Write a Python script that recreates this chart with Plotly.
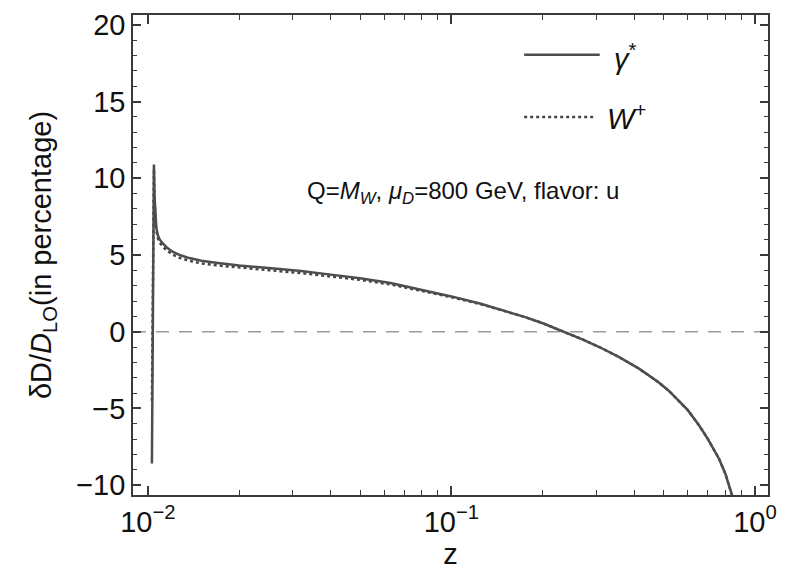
import plotly.graph_objects as go

# momentum fraction z and NLO correction (percent) for the u-quark fragmentation function
z_vals = [0.01031, 0.01036, 0.01041, 0.01047, 0.01052, 0.01058, 0.01066, 0.01078,
          0.01095, 0.0112, 0.0116, 0.0121, 0.0128, 0.0137, 0.0150, 0.0170, 0.0200,
          0.025, 0.032, 0.040, 0.050, 0.063, 0.079, 0.100, 0.125, 0.150, 0.175,
          0.200, 0.232, 0.270, 0.307, 0.357, 0.415, 0.48, 0.52, 0.562, 0.60, 0.654,
          0.70, 0.762, 0.80, 0.84, 0.87]

delta_gamma = [-8.6, -2.0, 4.5, 10.9, 8.8, 7.5, 6.8, 6.3,
               6.0, 5.75, 5.45, 5.2, 4.98, 4.8, 4.62, 4.48, 4.32,
               4.15, 3.95, 3.72, 3.48, 3.17, 2.76, 2.3, 1.82, 1.37, 0.95,
               0.55, 0.05, -0.5, -1.0, -1.66, -2.41, -3.28, -3.85, -4.5, -5.1, -6.1,
               -7.0, -8.3, -9.3, -10.65, -11.8]

delta_w = [-4.5, 0.5, 5.5, 10.6, 8.5, 7.25, 6.6, 6.1,
           5.8, 5.55, 5.26, 5.02, 4.8, 4.62, 4.45, 4.32, 4.17,
           4.01, 3.82, 3.6, 3.38, 3.08, 2.69, 2.25, 1.79, 1.35, 0.95,
           0.55, 0.05, -0.5, -1.0, -1.66, -2.41, -3.28, -3.85, -4.5, -5.1, -6.1,
           -7.0, -8.3, -9.3, -10.65, -11.8]

y_ticks = [-10, -5, 0, 5, 10, 15, 20]
y_tick_text = ["\u221210", "\u22125", "0", "5", "10", "15", "20"]
x_ticks = [0.01, 0.1, 1]
x_tick_text = ["10<sup>\u22122</sup>", "10<sup>\u22121</sup>", "10<sup>0</sup>"]
x_minor = [m * d for d in (0.01, 0.1) for m in range(2, 10)]

AX = "#3a3a3a"
CURVE = "#4d4d4d"
FONT = "Liberation Sans"

fig = go.Figure()
fig.add_trace(go.Scatter(x=z_vals, y=delta_w, mode="lines", name="W+",
                         line=dict(color="#444444", width=2.5, dash="dot")))
fig.add_trace(go.Scatter(x=z_vals, y=delta_gamma, mode="lines", name="gamma*",
                         line=dict(color=CURVE, width=2.5)))

# zero reference line
fig.add_shape(type="line", xref="paper", x0=0, x1=1, yref="y", y0=0, y1=0,
              line=dict(color="#9a9a9a", width=1.6, dash="13px,10px"), layer="below")

# hand-built legend
fig.add_shape(type="line", xref="paper", yref="paper", x0=0.616, x1=0.735, y0=0.917, y1=0.917,
              line=dict(color=CURVE, width=2.5))
fig.add_shape(type="line", xref="paper", yref="paper", x0=0.616, x1=0.729, y0=0.7875, y1=0.7875,
              line=dict(color="#444444", width=2.5, dash="dot"))
fig.add_annotation(xref="paper", yref="paper", x=0.754, y=0.912, xanchor="left", yanchor="middle",
                   text="<i>\u03b3</i><sup>*</sup>", showarrow=False, font=dict(size=29, color="#111"))
fig.add_annotation(xref="paper", yref="paper", x=0.743, y=0.7875, xanchor="left", yanchor="middle",
                   text="<i>W</i><sup>+</sup>", showarrow=False, font=dict(size=29, color="#111"))
fig.add_annotation(xref="paper", yref="paper", x=0.271, y=0.631, xanchor="left", yanchor="middle",
                   text="Q=<i>M<sub>W</sub></i>, <i>\u03bc<sub>D</sub></i>=800 GeV, flavor: u",
                   showarrow=False, font=dict(size=24, color="#111"))

fig.update_xaxes(type="log", range=[-2.049, 0.043],
                 tickmode="array", tickvals=x_ticks, ticktext=x_tick_text,
                 ticks="inside", ticklen=9, tickwidth=1.5, tickcolor=AX,
                 showline=True, linecolor=AX, linewidth=1.6, mirror="allticks",
                 showgrid=False, zeroline=False,
                 tickfont=dict(size=29, color="#111"),
                 minor=dict(tickmode="array", tickvals=x_minor, ticks="inside",
                            ticklen=5, tickwidth=1.3, tickcolor=AX, showgrid=False),
                 title=dict(text="z", font=dict(size=29, color="#111"), standoff=2))
fig.update_yaxes(range=[-10.65, 20.65],
                 tickmode="array", tickvals=y_ticks, ticktext=y_tick_text,
                 ticks="inside", ticklen=8, tickwidth=1.5, tickcolor=AX,
                 showline=True, linecolor=AX, linewidth=1.6, mirror="allticks",
                 showgrid=False, zeroline=False,
                 tickfont=dict(size=29, color="#111"),
                 minor=dict(dtick=1, ticks="inside", ticklen=4, tickwidth=1.3,
                            tickcolor=AX, showgrid=False),
                 title=dict(text="\u03b4D/<i>D</i><sub>LO</sub>(in percentage)",
                            font=dict(size=29, color="#111"), standoff=16))

fig.update_layout(width=788, height=578, showlegend=False,
                  margin=dict(l=133, r=20, t=15, b=83, autoexpand=False),
                  paper_bgcolor="white", plot_bgcolor="white",
                  font=dict(family=FONT, color="#111"))

fig.write_html("out.html")
